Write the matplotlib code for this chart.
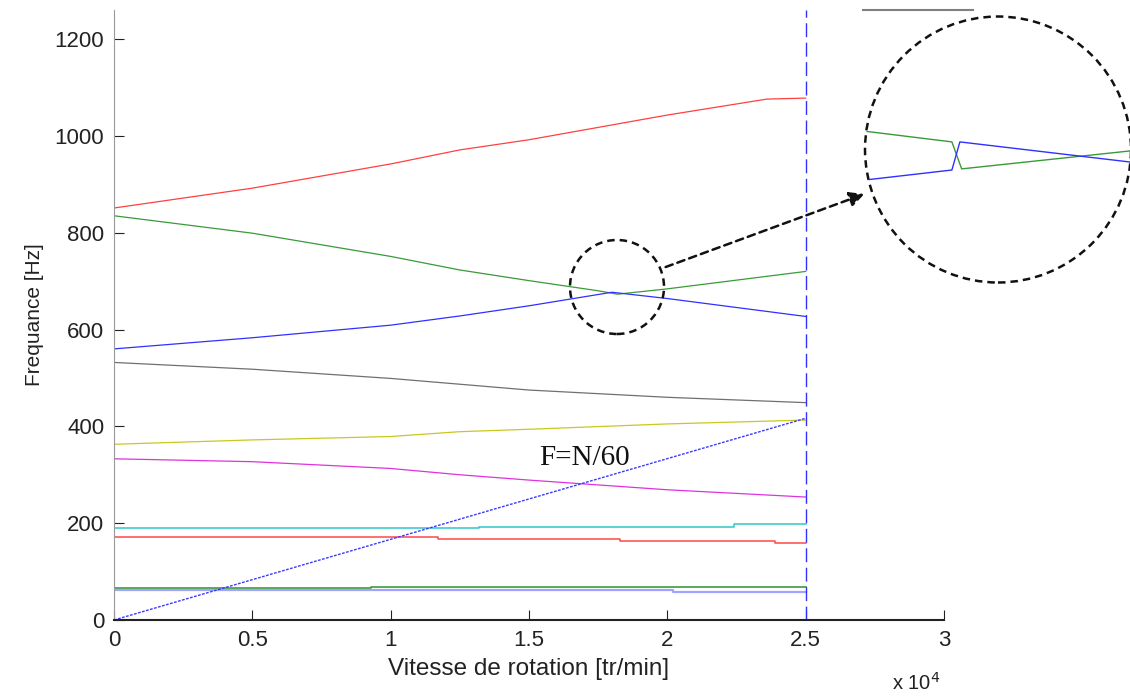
import matplotlib
matplotlib.use("Agg")
import matplotlib.pyplot as plt
from matplotlib.patches import Ellipse, Circle
from matplotlib.lines import Line2D

# Campbell diagram: natural frequencies vs rotation speed
rpm_red_hi = [0, 5000, 10000, 12500, 15000, 20000, 23600, 25000]
red_hi = [851, 892, 942, 971, 992, 1043, 1076, 1078]

rpm_green_hi = [0, 5000, 10000, 12500, 15000, 17500, 18200, 20000, 25000]
green_hi = [835, 799, 751, 723, 701, 680, 673, 684, 720]

rpm_blue_hi = [0, 5000, 10000, 12500, 15000, 18000, 20000, 25000]
blue_hi = [560, 583, 609, 628, 649, 677, 664, 627]

rpm_mid = [0, 5000, 10000, 12500, 15000, 20000, 25000]
gray_mid = [532, 518, 499, 487, 475, 460, 449]
yellow_mid = [363, 372, 379, 389, 394, 405, 413]
magenta_mid = [333, 327, 313, 300, 289, 269, 254]

rpm_cyan = [0, 13200, 22400, 25000]
cyan_low = [190, 193, 198, 198]
rpm_red_low = [0, 11700, 18300, 23900, 25000]
red_low = [171, 167, 164, 160, 160]
rpm_green_low = [0, 9300, 25000]
green_low = [66, 69, 69]
rpm_blue_low = [0, 4800, 20200, 25000]
blue_low = [62, 61, 58, 58]

# excitation line F = N/60
rpm_excit = [0, 25000]
max_speed = 25000

# zoomed view of the veering zone
inset_rpm_green = [16400, 17480, 17590, 19600]
inset_green = [680.1, 677.0, 669.9, 674.9]
inset_rpm_blue = [16400, 17480, 17570, 19600]
inset_blue = [666.7, 669.6, 677.0, 671.4]

x_ticks = [0, 5000, 10000, 15000, 20000, 25000, 30000]
x_tick_labels = ["0", "0.5", "1", "1.5", "2", "2.5", "3"]
y_ticks = [0, 200, 400, 600, 800, 1000, 1200]

W, H = 1130, 697
fig = plt.figure(figsize=(W / 100, H / 100), dpi=100)
plt.rcParams["font.family"] = ["Liberation Sans", "DejaVu Sans"]

ax = fig.add_axes([114 / W, (H - 620) / H, (944 - 114) / W, 610 / H])
lw = 0.9
ax.plot(rpm_red_hi, red_hi, color="#ff4040", lw=lw)
ax.plot(rpm_green_hi, green_hi, color="#3a9a3a", lw=lw)
ax.plot(rpm_blue_hi, blue_hi, color="#3030ff", lw=lw)
ax.plot(rpm_mid, gray_mid, color="#707070", lw=lw)
ax.plot(rpm_mid, yellow_mid, color="#c8c820", lw=lw)
ax.plot(rpm_mid, magenta_mid, color="#dd33dd", lw=lw)
ax.plot(rpm_cyan, cyan_low, color="#30c8c8", lw=1.1, drawstyle="steps-post")
ax.plot(rpm_red_low, red_low, color="#ff4848", lw=1.1, drawstyle="steps-post")
ax.plot(rpm_blue_low, blue_low, color="#9fa5ff", lw=1.6, drawstyle="steps-post")
ax.plot(rpm_green_low, green_low, color="#3f9a3f", lw=1.2, drawstyle="steps-post")
ax.plot(rpm_excit, [r / 60 for r in rpm_excit], color="#3a3aff", lw=1.0,
        linestyle=(0, (2, 1)))
ax.axvline(max_speed, color="#3030ff", lw=1.0, linestyle=(0, (10, 4)))

ax.text(17000, 335, "F=N/60", family=["Liberation Serif", "DejaVu Serif"],
        fontsize=21, ha="center", va="center", color="#111111")

ax.set_xlim(0, 30000)
ax.set_ylim(0, 1260)
ax.set_xticks(x_ticks)
ax.set_xticklabels(x_tick_labels)
ax.set_yticks(y_ticks)
ax.tick_params(direction="in", length=7, labelsize=16, pad=7, colors="#222222")
for side in ("top", "right"):
    ax.spines[side].set_visible(False)
ax.spines["left"].set_color("#999999")
ax.spines["bottom"].set_color("#222222")
ax.spines["bottom"].set_linewidth(1.5)
ax.set_xlabel("Vitesse de rotation [tr/min]", fontsize=17.5, labelpad=5,
              color="#222222")
ax.set_ylabel("Frequance [Hz]", fontsize=15, labelpad=8, color="#222222")
fig.text(916 / W, 1 - 683 / H, r"x 10$^4$", fontsize=14.5, ha="center",
         va="center", color="#222222")

# small dashed circle around the veering zone
dash = (0, (3, 2))
fig.patches.append(Ellipse((617 / W, 1 - 287 / H), 94 / W, 94 / H,
                           transform=fig.transFigure, fill=False, ec="#111111",
                           lw=1.8, linestyle=dash))

# dashed arrow to the magnified view
fig.patches.append(matplotlib.patches.FancyArrowPatch(
    (663 / W, 1 - 268 / H), (867 / W, 1 - 193 / H), transform=fig.transFigure,
    arrowstyle="-|>", mutation_scale=22, lw=1.8, linestyle=dash,
    color="#111111"))

# magnified circular view
ins = fig.add_axes([865 / W, (H - 282.5) / H, 266 / W, 266 / H])
ins.set_xlim(16500, 19500)
ins.set_ylim(640, 710)
ins.axis("off")
clip = Circle((0.5, 0.5), 0.5, transform=ins.transAxes, fill=False,
              ec="#111111", lw=1.8, linestyle=dash, clip_on=False)
ins.add_patch(clip)
lg, = ins.plot(inset_rpm_green, inset_green, color="#3a9a3a", lw=1.0)
lb, = ins.plot(inset_rpm_blue, inset_blue, color="#3030ff", lw=1.0)
lg.set_clip_path(clip)
lb.set_clip_path(clip)

fig.lines.append(Line2D([863 / W, 973 / W], [1 - 10 / H, 1 - 10 / H],
                        transform=fig.transFigure, color="#808080", lw=1.5))

fig.savefig("out.png", dpi=100)
